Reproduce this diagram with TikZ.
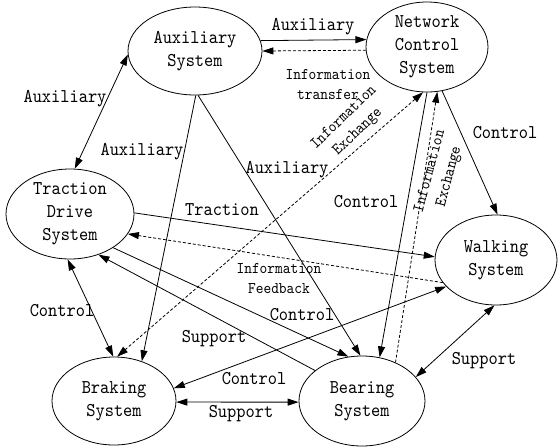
\documentclass[tikz,border=0pt]{standalone}
\usepackage{fontspec}
\setmainfont{Liberation Serif}
\newfontfamily\monof{lmmono10-regular.otf}[FakeStretch=0.9]
\usetikzlibrary{shapes.geometric,arrows.meta}
\begin{document}
\begin{tikzpicture}[x=1pt,y=-1pt,
 sys/.style={ellipse,draw,line width=0.8pt,inner sep=0pt,align=center,font=\monof\fontsize{19.5}{23}\selectfont},
 lab/.style={font=\monof\fontsize{19.5}{23}\selectfont,inner sep=0pt},
 slab/.style={font=\monof\fontsize{16.3}{20}\selectfont,inner sep=0pt,align=center},
 con/.style={line width=0.8pt,-{Triangle[length=11pt,width=7pt]}},
 dcon/.style={line width=0.8pt,{Triangle[length=11pt,width=7pt]}-{Triangle[length=11pt,width=7pt]}},
 dsh/.style={dash pattern=on 3pt off 2pt}
]
\useasboundingbox[fill=white] (0,0) rectangle (558,448);
% systems
\node[sys,minimum width=134pt,minimum height=88pt] (aux) at (195,51) {Auxiliary\\System};
\node[sys,minimum width=122pt,minimum height=90pt] (ncs) at (427,47) {Network\\Control\\System};
\node[sys,minimum width=128pt,minimum height=90pt] (trac) at (70,214) {Traction\\Drive\\System};
\node[sys,minimum width=122pt,minimum height=90pt] (walk) at (496,260) {Walking\\System};
\node[sys,minimum width=124pt,minimum height=88pt] (brak) at (114,401) {Braking\\System};
\node[sys,minimum width=126pt,minimum height=90pt] (bear) at (362,401) {Bearing\\System};
% connectors
\draw[con] (aux.9.6) -- (ncs.173.4);
\draw[con,dsh] (ncs.183.8) -- (aux.0);
\draw[dcon] (aux.183) -- (trac.84);
\draw[con] (aux.271) -- (brak.55.4);
\draw[con] (aux.274) -- (bear.92.4);
\draw[dcon,dsh] (ncs.265) -- (brak.86);
\draw[con] (ncs.270) -- (bear.68);
\draw[con,dsh] (bear.49) -- (ncs.283.4);
\draw[con] (ncs.289) -- (walk.88.7);
\draw[con] (trac.1) -- (walk.177);
\draw[con,dsh] (walk.203) -- (trac.341);
\draw[con] (trac.322.5) -- (bear.107);
\draw[con] (bear.147.4) -- (trac.305.4);
\draw[dcon] (brak.12) -- (walk.208);
\draw[dcon] (brak.359) -- (bear.181);
\draw[dcon] (bear.24) -- (walk.268.7);
\draw[dcon] (trac.267) -- (brak.91);
% labels
\node[lab] (l1) at (313,27) {Auxiliary};
\node[slab] (l2) at (328,85) {Information\\transfer};
\node[lab] (l3) at (65,99) {Auxiliary};
\node[lab] (l4) at (142,152) {Auxiliary};
\node[lab] (l5) at (287,170) {Auxiliary};
\node[slab,rotate=44] (l6) at (351,125) {Information\\Exchange};
\node[lab] (l7) at (366,202) {Control};
\node[slab,rotate=75] (l8) at (440,174) {Information\\Exchange};
\node[lab] (l9) at (505,133) {Control};
\node[lab] (l10) at (222,210) {Traction};
\node[slab] (l11) at (279,279) {Information\\Feedback};
\node[lab] (l12) at (302,315) {Control};
\node[lab] (l13) at (254,379) {Control};
\node[lab] (l14) at (214,339) {Support};
\node[lab] (l15) at (241,414) {Support};
\node[lab] (l16) at (484,361) {Support};
\node[lab] (l17) at (62,311) {Control};
\end{tikzpicture}
\end{document}
